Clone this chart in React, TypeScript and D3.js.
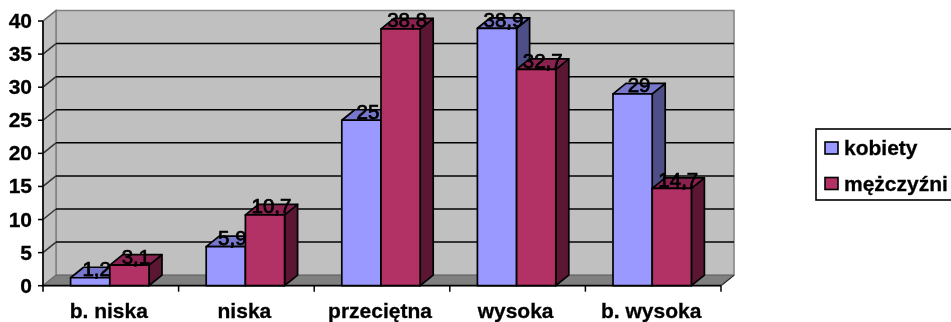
import React from "react";
import * as d3 from "d3";

const categories = ["b. niska", "niska", "przeciętna", "wysoka", "b. wysoka"];
const kobiety = [1.2, 5.9, 25, 38.9, 29];
const mezczyzni = [3.1, 10.7, 38.8, 32.7, 14.7];
const kobietyLabels = ["1,2", "5,9", "25", "38,9", "29"];
const mezczyzniLabels = ["3,1", "10,7", "38,8", "32,7", "14,7"];
const yTicks = d3.range(0, 41, 5);
const seriesNames = ["kobiety", "mężczyźni"];

const blue = { front: "#9999ff", top: "#7777cc", side: "#4f4f88" };
const red = { front: "#b23066", top: "#8a2450", side: "#5a1733" };

const DX = 13;
const DY = 10.5;
const x = d3.scaleBand<string>().domain(categories).range([43, 721]).paddingInner(0).paddingOuter(0);
const y = d3.scaleLinear().domain([0, 40]).range([285.7, 21]);
const barW = 39.2;
const font = "'Liberation Sans', Arial, sans-serif";

function Bar({ x0, v, c }: { x0: number; v: number; c: typeof blue }) {
  const t = y(v), b = y(0), x1 = x0 + barW;
  return (
    <g stroke="#000" strokeWidth={1.7} strokeLinejoin="round">
      <polygon points={`${x1},${t} ${x1 + DX},${t - DY} ${x1 + DX},${b - DY} ${x1},${b}`} fill={c.side} />
      <polygon points={`${x0},${t} ${x0 + DX},${t - DY} ${x1 + DX},${t - DY} ${x1},${t}`} fill={c.top} />
      <rect x={x0} y={t} width={barW} height={b - t} fill={c.front} />
    </g>
  );
}

export default function App() {
  const left = x.range()[0], right = x.range()[1];
  const base = y(0), top = y(40);
  const bw = x.bandwidth();
  const start = (bw - 2 * barW) / 2 - 1;
  return (
    <svg width={951} height={322} style={{ position: "absolute", left: 0, top: 0, background: "#fff" }}>
      <defs>
        <filter id="soft" x="-2%" y="-2%" width="104%" height="104%">
          <feGaussianBlur stdDeviation={0.35} />
        </filter>
      </defs>
      <g filter="url(#soft)">
        <rect x={left + DX} y={top - DY} width={right - left} height={base - top} fill="#c0c0c0" stroke="#808080" strokeWidth={1.5} />
        <polygon points={`${left},${top} ${left + DX},${top - DY} ${left + DX},${base - DY} ${left},${base}`} fill="#c0c0c0" stroke="#808080" strokeWidth={1.5} />
        <polygon points={`${left},${base} ${left + DX},${base - DY} ${right + DX},${base - DY} ${right},${base}`} fill="#808080" stroke="#666" strokeWidth={1} />
        {yTicks.filter((t) => t > 0 && t < 40).map((t) => (
          <g key={t} stroke="#000" strokeWidth={1.5}>
            <line x1={left + DX} x2={right + DX} y1={y(t) - DY} y2={y(t) - DY} />
            <line x1={left} x2={left + DX} y1={y(t)} y2={y(t) - DY} stroke="#333" />
          </g>
        ))}
        <line x1={left} x2={left + DX} y1={top} y2={top - DY} stroke="#666" strokeWidth={1.3} />
        <line x1={left} x2={left} y1={top} y2={base + 6} stroke="#000" strokeWidth={1.6} />
        <line x1={left} x2={right} y1={base} y2={base} stroke="#000" strokeWidth={1.8} />
        {yTicks.map((t) => (
          <g key={t}>
            <line x1={left - 5} x2={left} y1={y(t)} y2={y(t)} stroke="#000" strokeWidth={1.5} />
            <text x={left - 11} y={y(t) + 7} textAnchor="end" fontFamily={font} fontWeight="bold" fontSize={21} fill="#000" stroke="#000" strokeWidth={0.3}>{t}</text>
          </g>
        ))}
        {categories.map((c) => (
          <line key={c} x1={(x(c) as number) + bw} x2={(x(c) as number) + bw} y1={base} y2={base + 6} stroke="#000" strokeWidth={1.5} />
        ))}
        <line x1={right} x2={right + DX} y1={base} y2={base - DY} stroke="#333" strokeWidth={1.2} />
        {categories.map((c, i) => (
          <g key={c}>
            <Bar x0={(x(c) as number) + start} v={kobiety[i]} c={blue} />
            <Bar x0={(x(c) as number) + start + barW} v={mezczyzni[i]} c={red} />
          </g>
        ))}
        {categories.map((c, i) => (
          <g key={c} fontFamily={font} fontSize={20.5} textAnchor="middle" fill="#000" stroke="#000" strokeWidth={0.75}>
            <text x={(x(c) as number) + start + barW / 2 + 6.5} y={y(kobiety[i]) - 1.5}>{kobietyLabels[i]}</text>
            <text x={(x(c) as number) + start + barW * 1.5 + 6.5} y={y(mezczyzni[i]) - 1.5}>{mezczyzniLabels[i]}</text>
          </g>
        ))}
        {categories.map((c) => (
          <text key={c} x={(x(c) as number) + bw / 2 - 2} y={318} textAnchor="middle" fontFamily={font} fontWeight="bold" fontSize={21} fill="#000" stroke="#000" strokeWidth={0.3}>{c}</text>
        ))}
        <rect x={816} y={129} width={140} height={71} fill="#fff" stroke="#000" strokeWidth={1.6} />
        {seriesNames.map((n, i) => (
          <g key={n}>
            <rect x={825} y={142 + i * 35.5} width={13} height={12} fill={i === 0 ? blue.front : red.front} stroke="#000" strokeWidth={1.6} />
            <text x={844} y={155 + i * 36} fontFamily={font} fontWeight="bold" fontSize={21} fill="#000" stroke="#000" strokeWidth={0.3}>{n}</text>
          </g>
        ))}
      </g>
    </svg>
  );
}
